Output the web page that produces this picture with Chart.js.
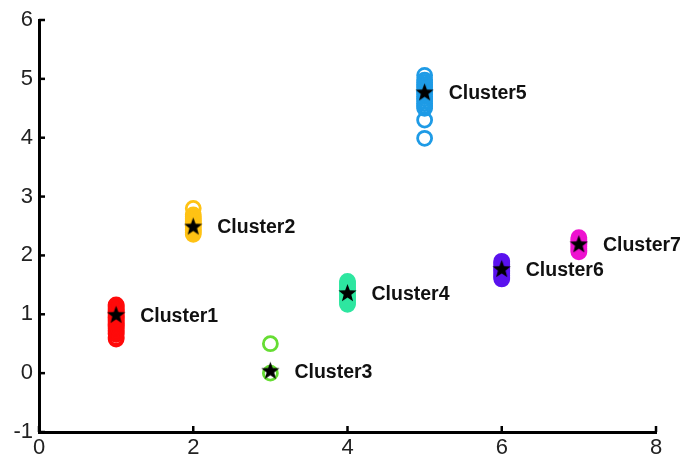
<!DOCTYPE html>
<html>
<head>
<meta charset="utf-8">
<script src="https://cdn.jsdelivr.net/npm/chart.js@4.4.0/dist/chart.umd.min.js"></script>
<style>
  html, body { margin: 0; padding: 0; background: #fff; }
  #wrap { width: 681px; height: 460px; }
</style>
</head>
<body>
<div id="wrap"><canvas id="c" width="681" height="460"></canvas></div>
<script>
// cluster data
const clusterNames = ['Cluster1', 'Cluster2', 'Cluster3', 'Cluster4', 'Cluster5', 'Cluster6', 'Cluster7'];
const clusterX = [1, 2, 3, 4, 5, 6, 7];
const clusterColors = ['#ff0a0a', '#ffc214', '#66dd33', '#2ee6a0', '#1e9be6', '#5a12ee', '#ee12d0'];
const cluster1Y = [0.58, 0.61, 0.66, 0.68, 0.71, 0.73, 0.76, 0.78, 0.8, 0.82, 0.84, 0.86, 0.88, 0.9, 0.92, 0.94, 0.96, 0.98, 1.0, 1.02, 1.04, 1.06, 1.08, 1.1, 1.12, 1.14, 1.16];
const cluster2Y = [2.36, 2.39, 2.42, 2.44, 2.47, 2.5, 2.52, 2.55, 2.58, 2.6, 2.63, 2.66, 2.69, 2.8];
const cluster3Y = [0.0, 0.5];
const cluster4Y = [1.17, 1.2, 1.23, 1.26, 1.29, 1.32, 1.35, 1.38, 1.41, 1.44, 1.47, 1.5, 1.53, 1.56];
const cluster5Y = [3.99, 4.3, 4.5, 4.54, 4.58, 4.62, 4.66, 4.7, 4.74, 4.78, 4.82, 4.86, 4.9, 4.94, 4.98, 5.06];
const cluster6Y = [1.6, 1.63, 1.66, 1.69, 1.72, 1.75, 1.78, 1.81, 1.84, 1.87, 1.9];
const cluster7Y = [2.06, 2.09, 2.12, 2.15, 2.18, 2.21, 2.24, 2.27, 2.3];
const clusterYs = [cluster1Y, cluster2Y, cluster3Y, cluster4Y, cluster5Y, cluster6Y, cluster7Y];
const centroidY = [1.0, 2.5, 0.05, 1.37, 4.78, 1.78, 2.2];
const xTicks = [0, 2, 4, 6, 8];
const yTicks = [-1, 0, 1, 2, 3, 4, 5, 6];

// filled five point star used as the centroid marker
function makeStar(size) {
  const cv = document.createElement('canvas');
  cv.width = size; cv.height = size;
  const g = cv.getContext('2d');
  const cx = size / 2, cy = size / 2 + 1, ro = size / 2, ri = ro * 0.42;
  g.beginPath();
  for (let i = 0; i < 10; i++) {
    const r = i % 2 === 0 ? ro : ri;
    const a = -Math.PI / 2 + i * Math.PI / 5;
    g.lineTo(cx + r * Math.cos(a), cy + r * Math.sin(a));
  }
  g.closePath();
  g.fillStyle = '#000';
  g.fill();
  return cv;
}
const starImg = makeStar(19);

const datasets = [{
  label: 'centroids',
  data: clusterX.map((x, i) => ({ x: x, y: centroidY[i] })),
  pointStyle: starImg,
  pointRadius: 9,
  order: 0
}];
clusterYs.forEach((ys, i) => {
  datasets.push({
    label: clusterNames[i],
    data: ys.map(y => ({ x: clusterX[i], y: y })),
    pointStyle: 'circle',
    pointRadius: 7,
    pointBorderWidth: 2.8,
    borderColor: clusterColors[i],
    backgroundColor: 'rgba(0,0,0,0)',
    order: 1
  });
});

// inward ticks on both axes + cluster names beside the centroids
const extras = {
  id: 'extras',
  afterDatasetsDraw(chart) {
    const ctx = chart.ctx;
    const xs = chart.scales.x, ys = chart.scales.y;
    const area = chart.chartArea;
    ctx.save();
    ctx.strokeStyle = '#000';
    ctx.lineWidth = 2.5;
    xTicks.forEach(v => {
      const px = xs.getPixelForValue(v);
      ctx.beginPath(); ctx.moveTo(px, area.bottom); ctx.lineTo(px, area.bottom - 6); ctx.stroke();
    });
    yTicks.forEach(v => {
      const py = ys.getPixelForValue(v);
      ctx.beginPath(); ctx.moveTo(area.left, py); ctx.lineTo(area.left + 6, py); ctx.stroke();
    });
    ctx.fillStyle = '#111';
    ctx.font = 'bold 19.5px "Liberation Sans", Arial, sans-serif';
    ctx.textAlign = 'left';
    ctx.textBaseline = 'middle';
    clusterNames.forEach((name, i) => {
      const px = xs.getPixelForValue(clusterX[i]);
      const py = ys.getPixelForValue(centroidY[i]);
      ctx.fillText(name, px + 24, py + 2);
    });
    ctx.restore();
  }
};

new Chart(document.getElementById('c'), {
  type: 'scatter',
  data: { datasets: datasets },
  options: {
    responsive: false,
    animation: false,
    layout: { padding: { top: 20, right: 25, left: 0, bottom: 0 } },
    plugins: { legend: { display: false }, tooltip: { enabled: false } },
    scales: {
      x: {
        type: 'linear',
        min: 0, max: 8,
        afterBuildTicks: s => { s.ticks = xTicks.map(v => ({ value: v })); },
        afterFit: s => { s.height = 28; },
        grid: { display: false, drawTicks: false },
        border: { display: true, color: '#000', width: 3 },
        ticks: { color: '#222', font: { family: '"Liberation Sans", Arial, sans-serif', size: 22 }, padding: 3, maxRotation: 0 }
      },
      y: {
        type: 'linear',
        min: -1, max: 6,
        afterBuildTicks: s => { s.ticks = yTicks.map(v => ({ value: v })); },
        afterFit: s => { s.width = 39; },
        grid: { display: false, drawTicks: false },
        border: { display: true, color: '#000', width: 3 },
        ticks: { color: '#222', font: { family: '"Liberation Sans", Arial, sans-serif', size: 22 }, padding: 6 }
      }
    }
  },
  plugins: [extras]
});
</script>
</body>
</html>
